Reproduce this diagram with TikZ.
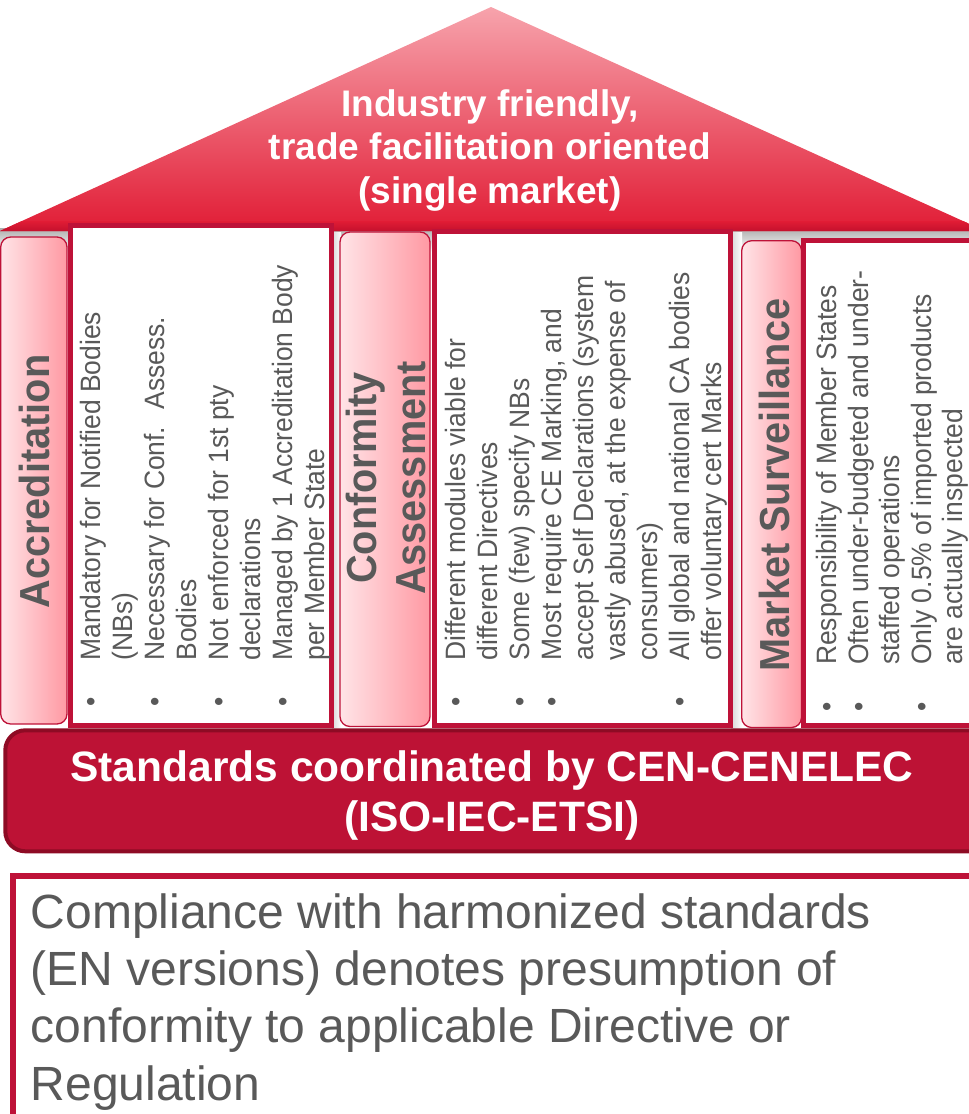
\documentclass[tikz,border=0pt]{standalone}
\usepackage{fontspec}
\setmainfont{Liberation Sans}
\newfontfamily\narrowfont[FakeStretch=0.945]{Liberation Sans}
\definecolor{roofTop}{HTML}{F7A3AC}
\definecolor{roofMid}{HTML}{EE5A6B}
\definecolor{roofBot}{HTML}{E11C35}
\definecolor{roofBand}{HTML}{C4112D}
\definecolor{crimson}{HTML}{BE1238}
\definecolor{baseFill}{HTML}{BD1235}
\definecolor{baseBorder}{HTML}{8E0B24}
\definecolor{pinkL}{HTML}{FFE4E7}
\definecolor{pinkR}{HTML}{FF99A3}
\definecolor{txtgray}{HTML}{595959}
\newcommand\colbul[1]{\makebox[#1][l]{\textbullet}}
\begin{document}
\begin{tikzpicture}[x=1pt,y=-1pt,
  textbox/.style={draw=crimson, line width=5pt, fill=white},
  pillar/.style={draw=crimson, line width=1.3pt, rounded corners=10pt, left color=pinkL, right color=pinkR},
  gapshade/.style={left color=black!16, right color=white},
  hdr/.style={rotate=90, inner sep=0pt, text=txtgray, font=\narrowfont\bfseries\fontsize{42}{48.3}\selectfont},
  bul/.style={rotate=90, inner sep=0pt, anchor=north west, text=txtgray, font=\narrowfont\fontsize{28}{32}\selectfont},
]
\useasboundingbox (0,0) rectangle (969,1114);
\clip (0,0) rectangle (969,1114);

% soft shadow under the roof and in the gaps between pillars
\shade[top color=black!32, bottom color=white] (0,228) rectangle (969,252);
\shade[gapshade] (332,232) rectangle (341,728);
\shade[gapshade] (731,232) rectangle (742,728);

% roof
\shade[top color=roofTop, middle color=roofMid, bottom color=roofBot] (491,7) -- (985,231) -- (0,231) -- cycle;
\begin{scope}
  \clip (491,7) -- (985,231) -- (0,231) -- cycle;
  \shade[top color=roofBot, bottom color=roofBand] (0,221) rectangle (985,231);
\end{scope}

% pillars
\path[pillar] (0.7,237) rectangle (67,724);
\path[pillar] (340,232) rectangle (430,726.5);
\path[pillar] (741.7,240.7) rectangle (801.5,727.5);

% text boxes
\path[textbox] (70.5,225.2) rectangle (331.5,725.2);
\path[textbox] (434.2,231.8) rectangle (730.2,725.2);
\path[textbox] (803.5,240.8) rectangle (990,725.5);

% base
\path[draw=baseBorder, line width=4pt, fill=baseFill, rounded corners=20pt] (5.3,730.3) rectangle (1000,851.3);

% bottom note box
\path[draw=crimson, line width=5.5pt, fill=white] (12.8,875.8) rectangle (1000,1140);

% texts
\node[anchor=north, inner sep=0pt, text=white, font=\bfseries\fontsize{37}{43.7}\selectfont] (roofTxt) at (490,85.4)
  {\begin{tabular}{@{}c@{}}Industry friendly,\\trade facilitation oriented\\(single market)\end{tabular}};

\node[hdr, anchor=base] (hAcc) at (49.3,481.5) {Accreditation};
\node[hdr, anchor=north] (hCA) at (342.9,478) {\begin{tabular}{@{}c@{}}Conformity\\Assessment\end{tabular}};
\node[hdr, anchor=base] (hMS) at (789.3,485) {Market Surveillance};

\node[bul] (col1) at (77.6,706.3) {\begin{tabular}{@{}l@{}l@{}}
\colbul{45.6pt}&Mandatory for Notified Bodies\\
&(NBs)\\
\colbul{45.6pt}&Necessary for Conf.~ Assess.\\
&Bodies\\
\colbul{45.6pt}&Not enforced for 1st pty\\
&declarations\\
\colbul{45.6pt}&Managed by 1 Accreditation Body\\
&per Member State
\end{tabular}};

\node[bul] (col2) at (442.6,706.3) {\begin{tabular}{@{}l@{}l@{}}
\colbul{45.6pt}&Different modules viable for\\
&different Directives\\
\colbul{45.6pt}&Some (few) specify NBs\\
\colbul{45.6pt}&Most require CE Marking, and\\
&accept Self Declarations (system\\
&vastly abused, at the expense of\\
&consumers)\\
\colbul{45.6pt}&All global and national CA bodies\\
&offer voluntary cert Marks
\end{tabular}};

\node[bul, font=\narrowfont\fontsize{28}{31.5}\selectfont] (col3) at (814.5,711.9) {\begin{tabular}{@{}l@{}l@{}}
\colbul{46.9pt}&Responsibility of Member States\\
\colbul{46.9pt}&Often under-budgeted and under-\\
&staffed operations\\
\colbul{46.9pt}&Only 0.5\% of imported products\\
&are actually inspected
\end{tabular}};

\node[anchor=north, inner sep=0pt, text=white, font=\bfseries\fontsize{42.5}{50}\selectfont] (stdTxt) at (492,746.5)
  {\begin{tabular}{@{}c@{}}Standards coordinated by CEN-CENELEC\\(ISO-IEC-ETSI)\end{tabular}};

\node[anchor=north west, inner sep=0pt, text=txtgray, font=\fontsize{48}{57.2}\selectfont] (note) at (30.5,888.3)
  {\begin{tabular}{@{}l@{}}Compliance with harmonized standards\\(EN versions) denotes presumption of\\conformity to applicable Directive or\\Regulation\end{tabular}};
\end{tikzpicture}
\end{document}
